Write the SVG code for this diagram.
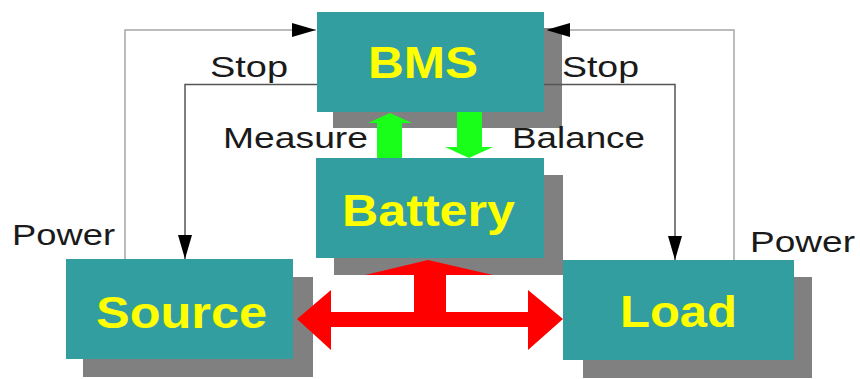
<svg xmlns="http://www.w3.org/2000/svg" width="860" height="379" viewBox="0 0 860 379">
<style>
.box{fill:#329e9f}
.shadow{fill:#808080}
.title{font-family:"Liberation Sans",Arial,sans-serif;font-weight:bold;fill:#ffff00;font-size:44px}
.lbl{font-family:"Liberation Sans",Arial,sans-serif;fill:#1a1a1a;font-size:30px}
.pw{fill:none;stroke:#a6a6a6;stroke-width:1.5}
.st{fill:none;stroke:#555555;stroke-width:1.5}
.green{fill:#1aff1a}
.red{fill:#ff0000}
</style>
<defs>
<marker id="ah" viewBox="0 0 24 14" refX="24" refY="7" markerWidth="24" markerHeight="14" markerUnits="userSpaceOnUse" orient="auto">
<path d="M0,0 L24,7 L0,14 Z" fill="#000"/>
</marker>
</defs>
<rect width="860" height="379" fill="#fff"/>
<g id="bms">
<rect class="shadow" x="333" y="28" width="229" height="100"/>
<rect class="box" x="317" y="12" width="227" height="100"/>
<text class="title" x="368" y="78" textLength="110" lengthAdjust="spacingAndGlyphs">BMS</text>
</g>
<g id="battery">
<rect class="shadow" x="334" y="175" width="229" height="100"/>
<rect class="box" x="316" y="158" width="228" height="100"/>
<text class="title" x="342" y="226" textLength="173" lengthAdjust="spacingAndGlyphs">Battery</text>
</g>
<g id="source">
<rect class="shadow" x="83" y="277" width="230" height="100"/>
<rect class="box" x="66" y="259" width="227" height="100"/>
<text class="title" x="96" y="328" textLength="171" lengthAdjust="spacingAndGlyphs">Source</text>
</g>
<g id="load">
<rect class="shadow" x="583" y="277" width="229" height="101"/>
<rect class="box" x="563" y="260" width="231" height="100"/>
<text class="title" x="620" y="327" textLength="117" lengthAdjust="spacingAndGlyphs">Load</text>
</g>
<g id="connectors">
<path class="pw" d="M125,259 L125,30 L316,30" marker-end="url(#ah)"/>
<path class="pw" d="M734,260 L734,30 L546,30" marker-end="url(#ah)"/>
<path class="st" d="M317,84.5 L185,84.5 L185,259" marker-end="url(#ah)"/>
<path class="st" d="M544,84.5 L675,84.5 L675,260" marker-end="url(#ah)"/>
<polygon class="green" points="377,158 377,123 368,123 390,113 412,123 402,123 402,158"/>
<polygon class="green" points="457,112 482,112 482,147 493,147 469,158 445,147 457,147"/>
<polygon class="red" points="428,260 493,275 446,275 446,312 528,312 528,290 563,319 528,350 528,327 331,327 331,350 297,319 331,290 331,312 414,312 414,275 365,275"/>
</g>
<g id="labels">
<text class="lbl" x="210" y="77" textLength="78" lengthAdjust="spacingAndGlyphs">Stop</text>
<text class="lbl" x="562" y="77" textLength="77" lengthAdjust="spacingAndGlyphs">Stop</text>
<text class="lbl" x="223" y="148" textLength="145" lengthAdjust="spacingAndGlyphs">Measure</text>
<text class="lbl" x="512" y="148" textLength="133" lengthAdjust="spacingAndGlyphs">Balance</text>
<text class="lbl" x="12" y="245" textLength="103" lengthAdjust="spacingAndGlyphs">Power</text>
<text class="lbl" x="750" y="252" textLength="105" lengthAdjust="spacingAndGlyphs">Power</text>
</g>
</svg>
